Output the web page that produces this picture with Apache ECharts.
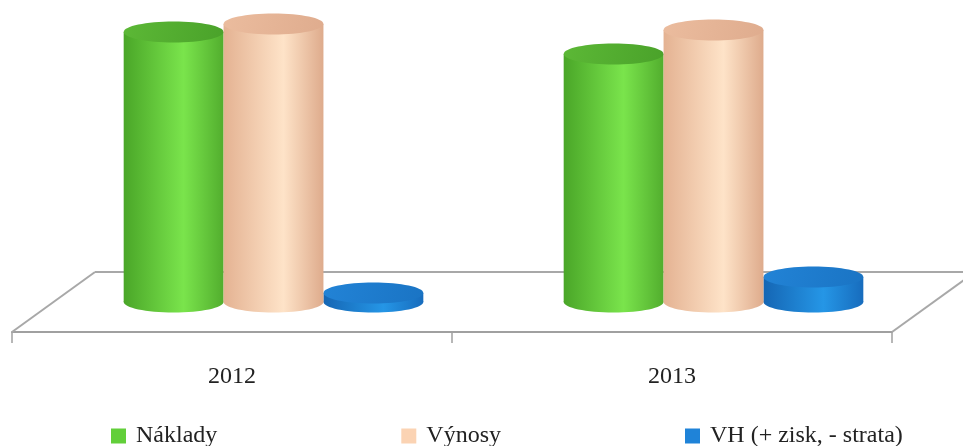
<!DOCTYPE html>
<html>
<head>
<meta charset="utf-8">
<script src="https://cdn.jsdelivr.net/npm/echarts@6/dist/echarts.min.js"></script>
<style>
  html, body { margin: 0; padding: 0; background: #fff; }
  #main { width: 963px; height: 446px; }
</style>
</head>
<body>
<div id="main"></div>
<script>
var years = ['2012', '2013'];
var naklady = [270, 248];
var vynosy = [278, 272];
var vh = [9, 25];

// 3D floor depth (back edge offset from the front axis line)
var DX = 83, DY = -60;

var myChart = echarts.init(document.getElementById('main'));

function cylinder(slot, side, face) {
    return function (params, api) {
        var cat = api.value(0);
        var base = api.coord([cat, 0]);
        var top = api.coord([cat, api.value(1)]);
        var band = api.size([1, 0])[0];
        var w = band * 0.227;
        var cx = base[0] + DX / 2 + slot * w;
        var by = base[1] + DY / 2;
        var ty = top[1] + DY / 2;
        var rx = w / 2, ry = w * 0.105;
        var bodyFill = new echarts.graphic.LinearGradient(0, 0, 1, 0, side);
        return {
            type: 'group',
            children: [
                { type: 'ellipse', shape: { cx: cx, cy: by, rx: rx, ry: ry }, style: { fill: bodyFill } },
                { type: 'rect', shape: { x: cx - rx, y: ty, width: w, height: by - ty }, style: { fill: bodyFill } },
                { type: 'ellipse', shape: { cx: cx, cy: ty, rx: rx, ry: ry },
                  style: { fill: new echarts.graphic.LinearGradient(0, 0, 1, 1, face) } }
            ]
        };
    };
}

function toData(arr) {
    return arr.map(function (v, i) { return [i, v]; });
}

myChart.setOption({
    animation: false,
    grid: { left: 12, right: 71, top: 2, bottom: 114 },
    legend: {
        left: 106,
        top: 419,
        itemGap: 184,
        itemWidth: 15,
        itemHeight: 15,
        icon: 'rect',
        textStyle: { fontFamily: 'Liberation Serif', fontSize: 24, color: '#222', padding: [0, 0, 0, 5] },
        data: ['Náklady', 'Výnosy', 'VH (+ zisk, - strata)']
    },
    xAxis: {
        type: 'category',
        data: years,
        axisLine: { lineStyle: { color: '#a0a0a0', width: 2 } },
        axisTick: { show: true, length: 11, lineStyle: { color: '#a0a0a0', width: 1.5 } },
        axisLabel: { margin: 33, fontFamily: 'Liberation Serif', fontSize: 24, color: '#222' }
    },
    yAxis: { type: 'value', min: 0, max: 330, show: false, splitLine: { show: false } },
    series: [
        {
            type: 'custom',
            silent: true,
            z: 1,
            data: [[0, 0]],
            renderItem: function (params, api) {
                var c = params.coordSys;
                var yb = c.y + c.height;
                var st = { stroke: '#a8a8a8', lineWidth: 2, fill: null };
                return {
                    type: 'group',
                    children: [
                        { type: 'line', shape: { x1: c.x + DX, y1: yb + DY, x2: c.x + c.width + DX, y2: yb + DY }, style: st },
                        { type: 'line', shape: { x1: c.x, y1: yb, x2: c.x + DX, y2: yb + DY }, style: st },
                        { type: 'line', shape: { x1: c.x + c.width, y1: yb, x2: c.x + c.width + DX, y2: yb + DY }, style: st }
                    ]
                };
            }
        },
        {
            name: 'Náklady',
            type: 'custom',
            z: 3,
            itemStyle: { color: '#62cf3a' },
            data: toData(naklady),
            renderItem: cylinder(-1,
                [{ offset: 0, color: '#4aa628' }, { offset: 0.6, color: '#7ae44c' }, { offset: 1, color: '#52ae2e' }],
                [{ offset: 0, color: '#5cb836' }, { offset: 1, color: '#4aa22a' }])
        },
        {
            name: 'Výnosy',
            type: 'custom',
            z: 4,
            itemStyle: { color: '#fbd3b3' },
            data: toData(vynosy),
            renderItem: cylinder(0,
                [{ offset: 0, color: '#e4b292' }, { offset: 0.6, color: '#fee3c8' }, { offset: 1, color: '#deab8c' }],
                [{ offset: 0, color: '#ebbc9e' }, { offset: 1, color: '#dfac8e' }])
        },
        {
            name: 'VH (+ zisk, - strata)',
            type: 'custom',
            z: 2,
            itemStyle: { color: '#1f83d8' },
            data: toData(vh),
            renderItem: cylinder(1,
                [{ offset: 0, color: '#1566b4' }, { offset: 0.6, color: '#2596e6' }, { offset: 1, color: '#176cbd' }],
                [{ offset: 0, color: '#2283d6' }, { offset: 1, color: '#1a74c4' }])
        }
    ]
});
</script>
</body>
</html>
